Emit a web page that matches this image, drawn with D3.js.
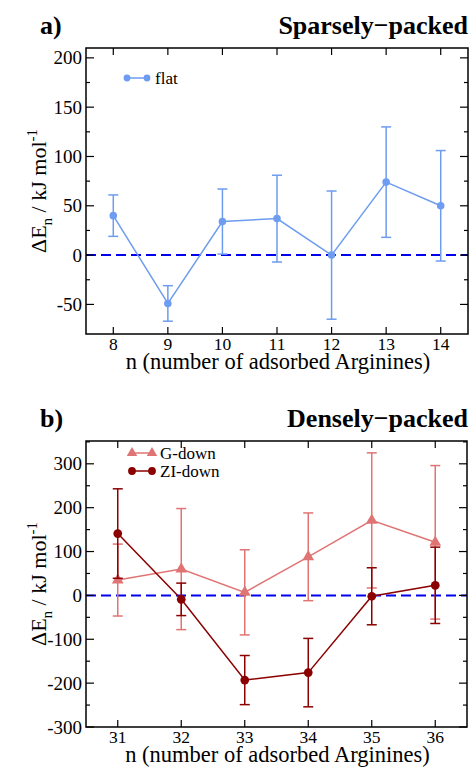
<!DOCTYPE html>
<html>
<head>
<meta charset="utf-8">
<script src="https://cdn.jsdelivr.net/npm/d3@7"></script>
<style>
  body { margin: 0; background: #fff; }
  svg { display: block; }
  text { font-family: "Liberation Serif", "DejaVu Serif", serif; }
</style>
</head>
<body>
<svg width="471" height="767"></svg>
<script>
// panel a: sparsely packed
const nA = [8, 9, 10, 11, 12, 13, 14]
const flatVal = [40, -49, 34, 37, 0, 74, 50]
const flatErr = [21, 18, 33, 44, 65, 56, 56]

// panel b: densely packed
const nB = [31, 32, 33, 34, 35, 36]
const gDownVal = [35, 60, 7, 88, 171, 121]
const gDownErr = [82, 138, 97, 100, 154, 175]
const ziDownVal = [141, -9, -193, -176, -2, 23]
const ziDownErr = [102, 37, 56, 78, 65, 87]

const yTicksA = [-50, 0, 50, 100, 150, 200]
const yTicksB = [-300, -200, -100, 0, 100, 200, 300]

const svg = d3.select("svg")

function panel(opt) {
  const g = svg.append("g")
  const x = d3.scaleLinear().domain(opt.xDomain).range([opt.left, opt.right])
  const y = d3.scaleLinear().domain(opt.yDomain).range([opt.bottom, opt.top])

  // zero line
  g.append("line")
    .attr("x1", opt.left).attr("x2", opt.right)
    .attr("y1", y(0)).attr("y2", y(0))
    .attr("stroke", "#0000ee").attr("stroke-width", 2)
    .attr("stroke-dasharray", "10,5")

  // series
  opt.series.forEach(s => {
    const pts = opt.xs.map((v, i) => ({ x: v, y: s.vals[i], e: s.errs[i] }))
    const eb = g.append("g").attr("stroke", s.color).attr("stroke-width", 1.5)
    pts.forEach(p => {
      eb.append("line").attr("x1", x(p.x)).attr("x2", x(p.x))
        .attr("y1", y(p.y - p.e)).attr("y2", y(p.y + p.e))
      ;[p.y - p.e, p.y + p.e].forEach(v => {
        eb.append("line").attr("x1", x(p.x) - 5).attr("x2", x(p.x) + 5)
          .attr("y1", y(v)).attr("y2", y(v))
      })
    })
    g.append("path").datum(pts)
      .attr("fill", "none").attr("stroke", s.color).attr("stroke-width", 1.5)
      .attr("d", d3.line().x(d => x(d.x)).y(d => y(d.y)))
    g.selectAll(null).data(pts).enter().append("path")
      .attr("transform", d => `translate(${x(d.x)},${y(d.y)})`)
      .attr("d", d3.symbol().type(s.symbol).size(s.size))
      .attr("fill", s.color)
  })

  // ticks (inward, all four sides)
  const tk = g.append("g").attr("stroke", "#000").attr("stroke-width", 1.2)
  opt.xs.forEach(v => {
    tk.append("line").attr("x1", x(v)).attr("x2", x(v)).attr("y1", opt.bottom).attr("y2", opt.bottom - 7)
    tk.append("line").attr("x1", x(v)).attr("x2", x(v)).attr("y1", opt.top).attr("y2", opt.top + 7)
  })
  const minor = d3.range(opt.yTicks[0], opt.yDomain[1], opt.yStep / 2)
  minor.forEach(v => {
    const len = opt.yTicks.includes(v) ? 8 : 4
    tk.append("line").attr("x1", opt.left).attr("x2", opt.left + len).attr("y1", y(v)).attr("y2", y(v))
    tk.append("line").attr("x1", opt.right).attr("x2", opt.right - len).attr("y1", y(v)).attr("y2", y(v))
  })

  // frame
  g.append("rect")
    .attr("x", opt.left).attr("y", opt.top)
    .attr("width", opt.right - opt.left).attr("height", opt.bottom - opt.top)
    .attr("fill", "none").attr("stroke", "#000").attr("stroke-width", 1.5)

  // tick labels
  g.selectAll(null).data(opt.xs).enter().append("text")
    .attr("x", d => x(d)).attr("y", opt.bottom + 16)
    .attr("text-anchor", "middle").attr("font-size", 17.5).text(d => d)
  g.selectAll(null).data(opt.yTicks).enter().append("text")
    .attr("x", opt.left - 4).attr("y", d => y(d) + 6.5)
    .attr("text-anchor", "end").attr("font-size", 19).text(d => d)

  // axis labels
  g.append("text")
    .attr("x", (opt.left + opt.right) / 2 + 1).attr("y", opt.bottom + 35)
    .attr("text-anchor", "middle").attr("font-size", 22.5)
    .text("n (number of adsorbed Arginines)")
  const yl = g.append("text")
    .attr("transform", `translate(46,${(opt.top + opt.bottom) / 2}) rotate(-90)`)
    .attr("text-anchor", "middle").attr("font-size", 22)
  yl.append("tspan").text("ΔE")
  yl.append("tspan").attr("font-size", 15).attr("dy", 6).text("n")
  yl.append("tspan").attr("dy", -6).text(" / kJ mol")
  yl.append("tspan").attr("font-size", 15).attr("dy", -9).text("-1")

  // titles
  g.append("text").attr("x", 40).attr("y", opt.top - 14)
    .attr("font-size", 26).attr("font-weight", "bold").text(opt.tag)
  g.append("text").attr("x", 468).attr("y", opt.top - 14)
    .attr("text-anchor", "end").attr("font-size", 26).attr("font-weight", "bold").text(opt.title)

  // legend
  opt.series.forEach((s, i) => {
    const ly = opt.legendY + i * 18
    g.append("line").attr("x1", opt.legendX).attr("x2", opt.legendX + 20)
      .attr("y1", ly).attr("y2", ly).attr("stroke", s.color).attr("stroke-width", 1.5)
    ;[opt.legendX, opt.legendX + 20].forEach(lx => {
      g.append("path").attr("transform", `translate(${lx},${ly})`)
        .attr("d", d3.symbol().type(s.symbol).size(s.size * 0.8)).attr("fill", s.color)
    })
    g.append("text").attr("x", opt.legendX + 28).attr("y", ly + 5.5)
      .attr("font-size", 17).text(s.name)
  })
}

panel({
  xs: nA, xDomain: [7.5, 14.5], yDomain: [-80, 210], yTicks: yTicksA, yStep: 50,
  left: 86, right: 468, top: 48, bottom: 334,
  tag: "a)", title: "Sparsely\u2212packed",
  legendX: 127, legendY: 78,
  series: [{ name: "flat", vals: flatVal, errs: flatErr, color: "#6d9cf0", symbol: d3.symbolCircle, size: 45 }]
})

panel({
  xs: nB, xDomain: [30.5, 36.5], yDomain: [-300, 352], yTicks: yTicksB, yStep: 100,
  left: 86, right: 467, top: 441, bottom: 727,
  tag: "b)", title: "Densely\u2212packed",
  legendX: 132, legendY: 453,
  series: [
    { name: "G-down", vals: gDownVal, errs: gDownErr, color: "#e07474", symbol: d3.symbolTriangle, size: 60 },
    { name: "ZI-down", vals: ziDownVal, errs: ziDownErr, color: "#8b0000", symbol: d3.symbolCircle, size: 60 }
  ]
})
</script>
</body>
</html>
